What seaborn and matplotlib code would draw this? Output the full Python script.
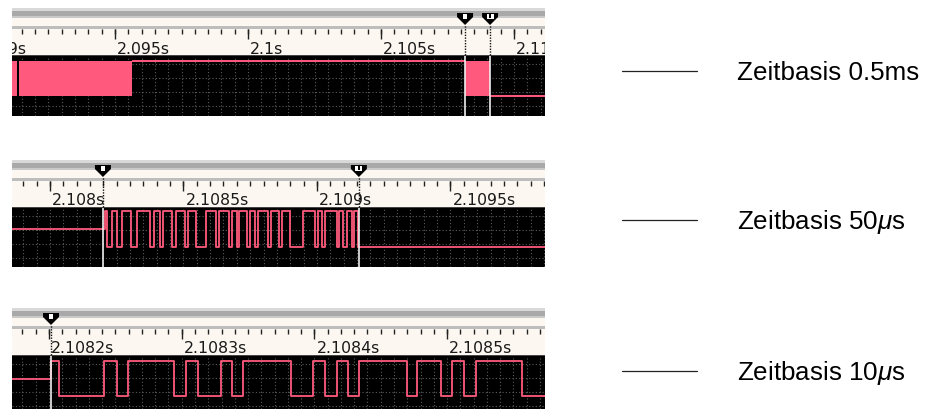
import numpy as np
import pandas as pd
import matplotlib
matplotlib.use("Agg")
import matplotlib.pyplot as plt
import seaborn as sns
from matplotlib import transforms
from matplotlib.patches import Polygon
from matplotlib.lines import Line2D

# ---------------- data ----------------
panel_views = [(2.091128, 2.111165), (2.107858, 2.109854), (2.1081721, 2.1085738)]

major_ticks_1 = [2.090, 2.095, 2.100, 2.105, 2.110]
major_labels_1 = ["2.09s", "2.095s", "2.1s", "2.105s", "2.11s"]
major_ticks_2 = [2.1080, 2.1085, 2.1090, 2.1095]
major_labels_2 = ["2.108s", "2.1085s", "2.109s", "2.1095s"]
major_ticks_3 = [2.1082, 2.1083, 2.1084, 2.1085]
major_labels_3 = ["2.1082s", "2.1083s", "2.1084s", "2.1085s"]
minor_steps = [0.0005, 0.00005, 0.00001]

# panel 1 (0.5 ms/div): dense bursts appear as filled blocks
burst_start_1 = [2.09100, 2.09139, 2.10816]
burst_end_1 = [2.09132, 2.09564, 2.10910]
idle_start_1 = [2.09564, 2.10910]
idle_end_1 = [2.10816, 2.11200]
idle_level_1 = [1, 0]

# panel 2 (50 us/div): edge times in microseconds after 2.108 s
base_2 = 2.108
rise_2 = 206
low_start_2 = [214, 251, 303, 375, 412, 457, 506, 547, 622, 670, 700,
               738, 768, 816, 858, 899, 992, 1019, 1075, 1097, 1131]
low_end_2 = [232, 270, 326, 390, 423, 472, 517, 584, 633, 682, 708,
             749, 779, 828, 869, 948, 1004, 1030, 1082, 1112, 1139]
fall_2 = 1153

# panel 3 (10 us/div): edge times in microseconds after 2.1082 s
base_3 = 2.1082
rise_3 = 1.5
low_start_3 = [7.5, 51.2, 94.2, 112.3, 137.9, 182.4, 208.0, 225.3, 269.8, 295.4, 312.7]
low_end_3 = [41.4, 59.5, 103.2, 129.6, 146.2, 199.0, 217.0, 233.6, 277.3, 303.7, 321.8]
fall_3 = 356.5

cursors_1 = [2.10816, 2.10910]
cursors_2 = [2.1081985, 2.1091570]
cursors_3 = [2.1082015]

labels = ["Zeitbasis 0.5ms", "Zeitbasis 50$\\mu$s", "Zeitbasis 10$\\mu$s"]

# ---------------- style ----------------
sns.set_theme(style="white")
plt.rcParams["font.family"] = ["DejaVu Sans"]
plt.rcParams["mathtext.fontset"] = "custom"
plt.rcParams["mathtext.rm"] = "Liberation Sans"
plt.rcParams["mathtext.it"] = "Liberation Sans:italic"

PINK = "#ff5a7d"
CREAM = "#fcf7f0"
W, H = 938, 410

fig = plt.figure(figsize=(W / 100, H / 100), dpi=100)
fig.patch.set_facecolor("white")


def px_axes(x0, y0, x1, y1):
    ax = fig.add_axes([x0 / W, 1 - y1 / H, (x1 - x0) / W, (y1 - y0) / H])
    ax.set_xticks([])
    ax.set_yticks([])
    for s in ax.spines.values():
        s.set_visible(False)
    return ax


def steps(base, rise, ls, le, fall, view):
    t = [view[0] - 1e-6, base + rise * 1e-6]
    lv = [0.5, 1.0]
    for s, e in zip(ls, le):
        t += [base + s * 1e-6, base + e * 1e-6]
        lv += [0.0, 1.0]
    t += [base + fall * 1e-6, view[1] + 1e-6]
    lv += [0.0, 0.0]
    return pd.DataFrame({"t": t, "level": lv})


def px_shape(ax, xc, yc, verts, color):
    tr = (transforms.Affine2D().scale(0.01) + fig.dpi_scale_trans
          + transforms.ScaledTranslation(xc, yc, ax.transData))
    ax.add_patch(Polygon(verts, closed=True, transform=tr, facecolor=color,
                         edgecolor="none", clip_on=False, zorder=6))


panels = [
    dict(ruler=(12, 9, 545, 57), sig=(12, 57, 545, 117), ylim=(-0.571, 1.143),
         ticks=major_ticks_1, tlabels=major_labels_1, cursors=cursors_1),
    dict(ruler=(12, 161, 545, 209), sig=(12, 209, 545, 268), ylim=(-0.556, 1.083),
         ticks=major_ticks_2, tlabels=major_labels_2, cursors=cursors_2),
    dict(ruler=(12, 309, 545, 357), sig=(12, 357, 545, 410), ylim=(-0.371, 1.143),
         ticks=major_ticks_3, tlabels=major_labels_3, cursors=cursors_3),
]
label_y = [72, 221, 372]

for i, p in enumerate(panels):
    view = panel_views[i]
    minor = np.arange(p["ticks"][0] - 20 * minor_steps[i], view[1], minor_steps[i])
    minor = minor[(minor >= view[0]) & (minor <= view[1])]

    # ---- ruler ----
    rax = px_axes(*p["ruler"])
    rax.set_facecolor(CREAM)
    rax.set_xlim(view)
    rax.set_ylim(0, 48)
    rax.axhspan(45, 48, color="#d9d9d9", lw=0)
    rax.axhspan(40, 45, color="#a9a9a9", lw=0)
    rax.axhspan(38.5, 40, color="#c9c9c9", lw=0)
    rax.axhspan(27, 30, color="#bdbdbd", lw=0)
    rax.axhspan(0, 1.2, color="#444444", lw=0)
    rax.vlines(minor, 22.5, 27, color="#222222", lw=1.0)
    rax.vlines(p["ticks"], 17.5, 27, color="#222222", lw=1.0)
    off = transforms.offset_copy(rax.transData, fig=fig, x=2, y=0, units="dots")
    for tv, tl in zip(p["ticks"], p["tlabels"]):
        rax.text(tv, 3.5, tl, transform=off, ha="left", va="baseline",
                 fontsize=11.3, color="#1a1a1a", clip_on=True)
    for k, c in enumerate(p["cursors"]):
        rax.vlines([c], 1.2, 31, color="#111111", lw=1.0, linestyles=(0, (1, 1)))
        px_shape(rax, c, 37, [(-8, 6), (8, 6), (8, 2), (0, -6), (-8, 2)], "black")
        if k == 0:
            px_shape(rax, c, 37, [(-2.3, 5), (2.3, 5), (2.3, 0.5), (-2.3, 0.5)], "white")
        else:
            px_shape(rax, c, 37, [(-3.5, 5), (3.5, 5), (3.5, 0.5), (-3.5, 0.5)], "white")
            px_shape(rax, c, 37, [(-0.7, 5), (0.7, 5), (0.7, 0.8), (-0.7, 0.8)], "black")

    # ---- signal area ----
    sax = px_axes(*p["sig"])
    sax.set_facecolor("black")
    sax.set_xlim(view)
    sax.set_ylim(p["ylim"])
    hgt = p["sig"][3] - p["sig"][1]
    for pxy in [8, 22, 36, 50]:
        if pxy < hgt:
            f = 1 - pxy / hgt
            sax.plot([0, 1], [f, f], transform=sax.transAxes, color="#5c5c5c",
                     lw=0.8, ls=(0, (1, 2)), zorder=1)
    sax.vlines(minor, 0, 1, transform=sax.get_xaxis_transform(), color="#5c5c5c",
               lw=0.8, linestyles=(0, (1, 2)), zorder=1)

    if i == 0:
        for s, e in zip(burst_start_1, burst_end_1):
            sax.fill_between([s, e], 0, 1, color=PINK, lw=0, zorder=3)
        sax.hlines(idle_level_1, idle_start_1, idle_end_1, color=PINK, lw=1.4, zorder=3)
    else:
        if i == 1:
            df = steps(base_2, rise_2, low_start_2, low_end_2, fall_2, view)
        else:
            df = steps(base_3, rise_3, low_start_3, low_end_3, fall_3, view)
        sns.lineplot(data=df, x="t", y="level", drawstyle="steps-post",
                     estimator=None, sort=False, color=PINK, lw=1.3, ax=sax, zorder=3)
        sax.set_xlabel("")
        sax.set_ylabel("")
        sax.set_xticks([])
        sax.set_yticks([])
        sax.set_xlim(view)
        sax.set_ylim(p["ylim"])
    for c in p["cursors"]:
        sax.axvline(c, color="#eeeeee", lw=1.2, zorder=4)

    # ---- right-hand legend entry ----
    y = label_y[i]
    fig.add_artist(Line2D([622 / W, 697 / W], [1 - y / H, 1 - y / H],
                          transform=fig.transFigure, color="#222222", lw=0.9))
    fig.text(737 / W, 1 - (y + 8.5) / H, labels[i], fontsize=18.7,
             family=["Liberation Sans", "DejaVu Sans"], ha="left", va="baseline",
             color="black")

fig.savefig("out.png", dpi=100)
